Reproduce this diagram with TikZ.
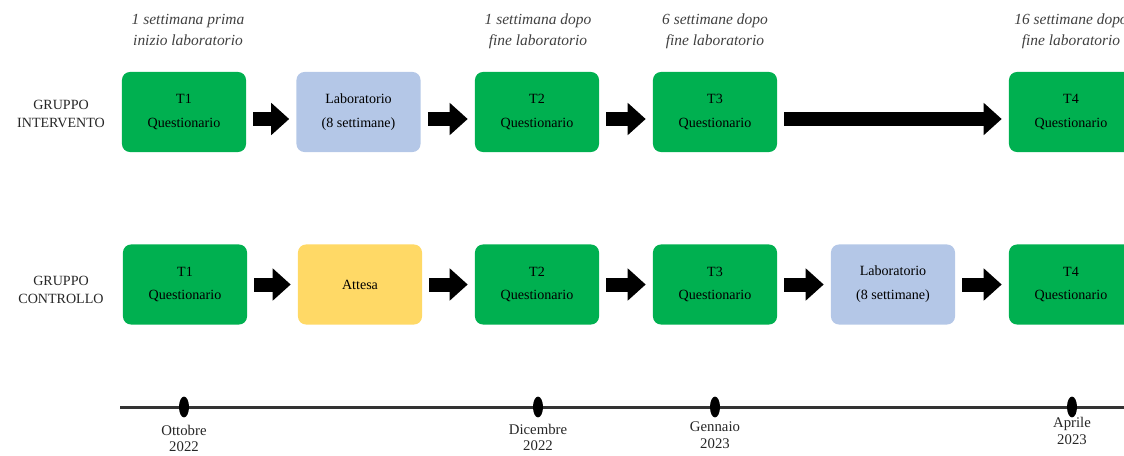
\documentclass[tikz,border=0pt]{standalone}
\usepackage{fontspec}
\setmainfont{Liberation Serif}
\usepackage{xcolor}
\usetikzlibrary{arrows.meta,shapes.geometric,positioning}
\definecolor{questgreen}{RGB}{0,176,80}
\definecolor{labblue}{RGB}{180,199,231}
\definecolor{waityellow}{RGB}{255,217,102}

\begin{document}
\begin{tikzpicture}[x=0.025cm, y=-0.025cm,
  stepbox/.style={rounded corners=0.2cm, minimum width=3.1cm, minimum height=2cm, inner sep=0pt, align=center, font=\fontsize{10}{17}\selectfont},
  quest/.style={stepbox, fill=questgreen},
  lab/.style={stepbox, fill=labblue},
  wait/.style={stepbox, fill=waityellow},
  fatarrow/.style={line width=0.35cm, -{Triangle[width=0.78cm,length=0.45cm]}, shorten <=0.175cm, shorten >=0.175cm},
  grouplab/.style={align=center, font=\fontsize{10}{12.8}\selectfont, text=black!85},
  whenlab/.style={align=center, font=\fontsize{11}{15}\selectfont\itshape, text=black!75},
  tick/.style={ellipse, fill=black, minimum width=0.25cm, minimum height=0.52cm, inner sep=0pt},
  datelab/.style={align=center, font=\fontsize{10.5}{12}\selectfont, text=black!85}]
  \useasboundingbox (0,0) rectangle (1124,455);

  % Timing notes
  \node[whenlab] (w1) at (188,30) {1 settimana prima\\inizio laboratorio};
  \node[whenlab] (w2) at (538,31) {1 settimana dopo\\fine laboratorio};
  \node[whenlab] (w3) at (715,31) {6 settimane dopo\\fine laboratorio};
  \node[whenlab] (w4) at (1071,31) {16 settimane dopo\\fine laboratorio};

  % Gruppo intervento
  \node[grouplab] (gi) at (61,114) {GRUPPO\\INTERVENTO};
  \node[quest] (t1a) at (184,112) {T1\\Questionario};
  \node[lab] (laba) at (358.5,112) {Laboratorio\\(8 settimane)};
  \node[quest] (t2a) at (537,112) {T2\\Questionario};
  \node[quest] (t3a) at (715,112) {T3\\Questionario};
  \node[quest] (t4a) at (1071,112) {T4\\Questionario};

  \draw[fatarrow] ([yshift=-0.175cm]t1a.east) -- ([yshift=-0.175cm]laba.west);
  \draw[fatarrow] ([yshift=-0.175cm]laba.east) -- ([yshift=-0.175cm]t2a.west);
  \draw[fatarrow] ([yshift=-0.175cm]t2a.east) -- ([yshift=-0.175cm]t3a.west);
  \draw[fatarrow] ([yshift=-0.175cm]t3a.east) -- ([yshift=-0.175cm]t4a.west);

  % Gruppo controllo
  \node[grouplab] (gc) at (61,290) {GRUPPO\\CONTROLLO};
  \node[quest] (t1b) at (185,284.5) {T1\\Questionario};
  \node[wait] (att) at (360,284.5) {Attesa};
  \node[quest] (t2b) at (537,284.5) {T2\\Questionario};
  \node[quest] (t3b) at (715,284.5) {T3\\Questionario};
  \node[lab] (labb) at (893,284.5) {Laboratorio\\(8 settimane)};
  \node[quest] (t4b) at (1071,284.5) {T4\\Questionario};

  \draw[fatarrow] (t1b) -- (att);
  \draw[fatarrow] (att) -- (t2b);
  \draw[fatarrow] (t2b) -- (t3b);
  \draw[fatarrow] (t3b) -- (labb);
  \draw[fatarrow] (labb) -- (t4b);

  % Timeline
  \coordinate (tlstart) at (120,407);
  \coordinate (tlend) at (1124,407);
  \draw[line width=0.075cm, black!80] (tlstart) -- (tlend);
  \node[tick] (ott) at (184,407) {};
  \node[tick] (dic) at (538,407) {};
  \node[tick] (gen) at (715,407) {};
  \node[tick] (apr) at (1072,407) {};

  \node[datelab] (dott) at (184,438.5) {Ottobre\\2022};
  \node[datelab] (ddic) at (538,437.5) {Dicembre\\2022};
  \node[datelab] (dgen) at (715,435) {Gennaio\\2023};
  \node[datelab] (dapr) at (1072,431) {Aprile\\2023};
\end{tikzpicture}
\end{document}
